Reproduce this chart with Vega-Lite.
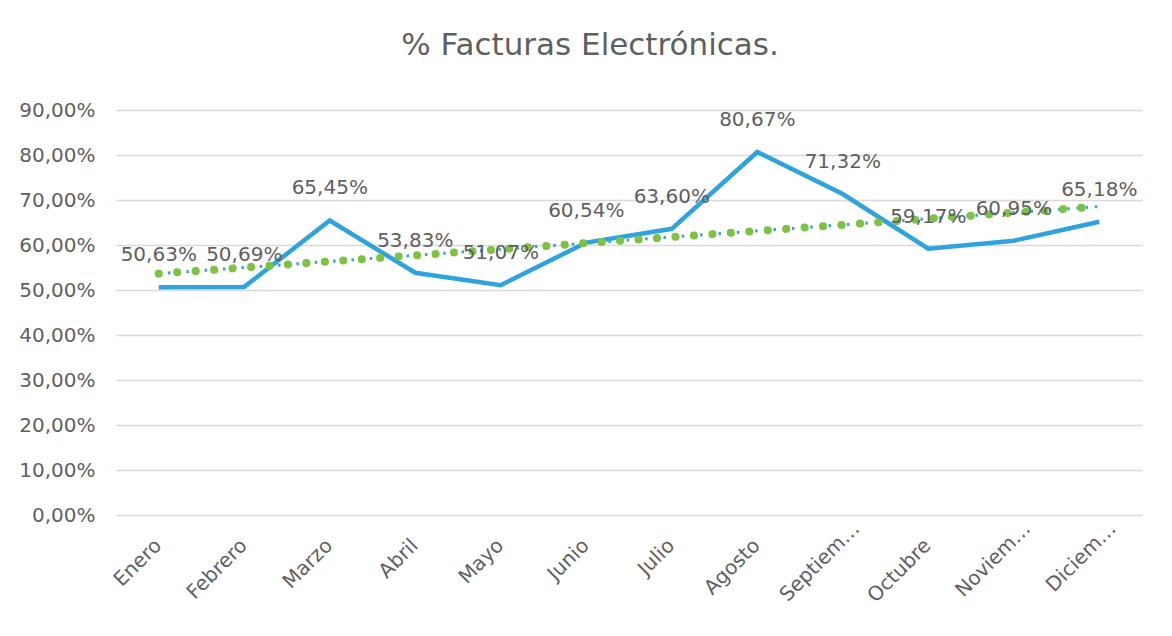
{
  "$schema": "https://vega.github.io/schema/vega-lite/v6.json",
  "width": 1026,
  "height": 405,
  "autosize": {"type": "none"},
  "padding": {"left": 116, "top": 110, "right": 30, "bottom": 121},
  "background": "white",
  "config": {
    "locale": {"number": {"decimal": ",", "thousands": ".", "grouping": [3], "currency": ["", " €"]}},
    "view": {"stroke": null},
    "font": "DejaVu Sans"
  },
  "title": {
    "text": "% Facturas Electrónicas.",
    "font": "DejaVu Sans",
    "fontSize": 31,
    "fontWeight": "normal",
    "color": "#5f5f5f",
    "anchor": "middle",
    "dx": -39,
    "offset": 38
  },
  "data": {
    "values": [
      {"idx": 1, "mes": "Enero", "pct": 0.5063},
      {"idx": 2, "mes": "Febrero", "pct": 0.5069},
      {"idx": 3, "mes": "Marzo", "pct": 0.6545},
      {"idx": 4, "mes": "Abril", "pct": 0.5383},
      {"idx": 5, "mes": "Mayo", "pct": 0.5107},
      {"idx": 6, "mes": "Junio", "pct": 0.6054},
      {"idx": 7, "mes": "Julio", "pct": 0.6360},
      {"idx": 8, "mes": "Agosto", "pct": 0.8067},
      {"idx": 9, "mes": "Septiembre", "pct": 0.7132},
      {"idx": 10, "mes": "Octubre", "pct": 0.5917},
      {"idx": 11, "mes": "Noviembre", "pct": 0.6095},
      {"idx": 12, "mes": "Diciembre", "pct": 0.6518}
    ]
  },
  "encoding": {
    "x": {
      "field": "idx",
      "type": "quantitative",
      "scale": {"domain": [0.5, 12.5], "nice": false, "zero": false},
      "axis": {
        "title": null,
        "values": [1, 2, 3, 4, 5, 6, 7, 8, 9, 10, 11, 12],
        "labelExpr": "['Enero','Febrero','Marzo','Abril','Mayo','Junio','Julio','Agosto','Septiem…','Octubre','Noviem…','Diciem…'][datum.value - 1]",
        "labelAngle": -45,
        "labelAlign": "right",
        "labelBaseline": "top",
        "labelPadding": {"condition": {"test": "datum.value == 9 || datum.value >= 11", "value": 3}, "value": 20},
        "labelOffset": {"condition": {"test": "datum.value == 9 || datum.value >= 11", "value": 6}, "value": -8},
        "labelFont": "DejaVu Sans",
        "labelFontSize": 20,
        "labelColor": "#5f5f5f",
        "labelOverlap": false,
        "labelBound": false,
        "labelFlush": false,
        "domain": false,
        "ticks": false,
        "grid": false
      }
    },
    "y": {
      "field": "pct",
      "type": "quantitative",
      "scale": {"domain": [0, 0.9], "nice": false},
      "axis": {
        "title": null,
        "values": [0, 0.1, 0.2, 0.3, 0.4, 0.5, 0.6, 0.7, 0.8, 0.9],
        "format": ".2%",
        "labelFont": "DejaVu Sans",
        "labelFontSize": 20,
        "labelColor": "#5f5f5f",
        "labelPadding": 21,
        "domain": false,
        "ticks": false,
        "grid": true,
        "gridColor": "#D9D9D9",
        "gridWidth": 1.5
      }
    }
  },
  "layer": [
    {
      "mark": {"type": "line", "color": "#2EA3DD", "strokeWidth": 4.5, "strokeJoin": "miter"}
    },
    {
      "transform": [{"regression": "pct", "on": "idx"}],
      "mark": {"type": "line", "color": "#2EA3DD", "strokeWidth": 3, "strokeDash": [2.5, 6.7]}
    },
    {
      "transform": [{"regression": "pct", "on": "idx"}],
      "mark": {"type": "line", "color": "#7DC242", "strokeWidth": 8, "strokeCap": "round", "strokeDash": [0.1, 18.4]}
    },
    {
      "mark": {"type": "text", "dy": -32, "baseline": "middle", "align": "center", "font": "DejaVu Sans", "fontSize": 20, "color": "#5f5f5f"},
      "encoding": {
        "text": {"field": "pct", "type": "quantitative", "format": ".2%"}
      }
    }
  ]
}
